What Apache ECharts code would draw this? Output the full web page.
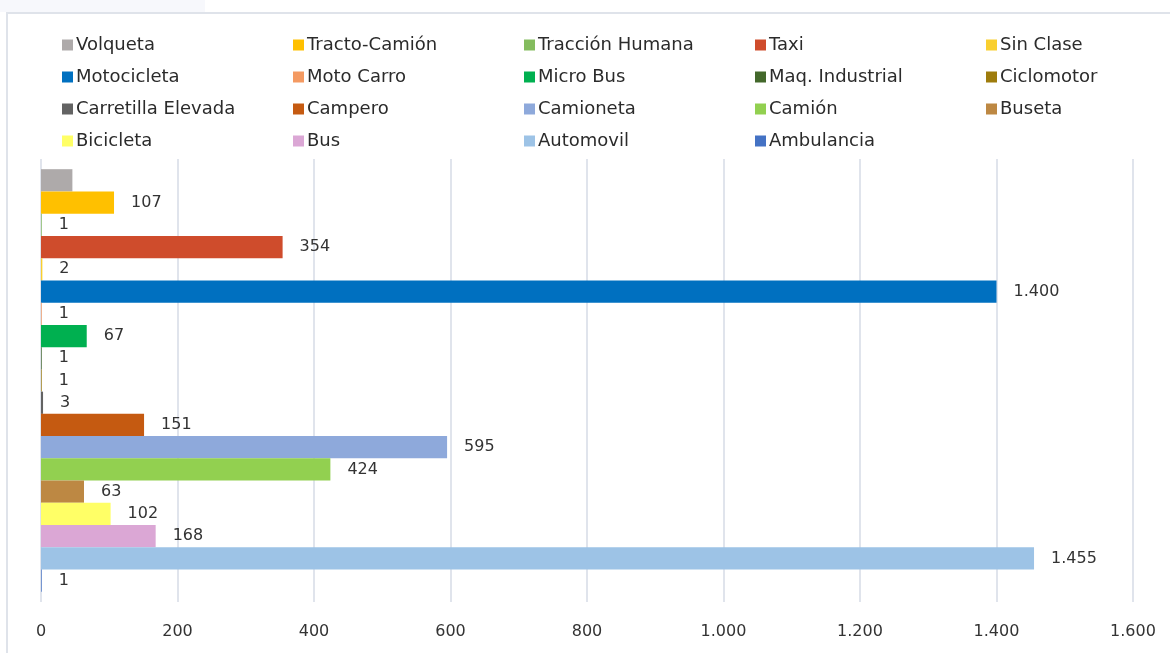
<!DOCTYPE html>
<html>
<head>
<meta charset="utf-8">
<script src="https://cdn.jsdelivr.net/npm/echarts@6/dist/echarts.min.js"></script>
<style>html,body{margin:0;padding:0;background:#fff}#c{width:1170px;height:653px}</style>
</head>
<body>
<div id="c"></div>
<script>
const categories = ['Volqueta','Tracto-Camión','Tracción Humana','Taxi','Sin Clase','Motocicleta','Moto Carro','Micro Bus','Maq. Industrial','Ciclomotor','Carretilla Elevada','Campero','Camioneta','Camión','Buseta','Bicicleta','Bus','Automovil','Ambulancia'];
const values = [46,107,1,354,2,1400,1,67,1,1,3,151,595,424,63,102,168,1455,1];
const colors = ['#AEAAAA','#FFC000','#84BC5E','#CF4C2C','#F9CF2F','#0070C0','#F49A62','#00B050','#43682B','#9E7C0C','#636363','#C55A11','#8EA9DB','#92D050','#BD8843','#FFFF66','#DBA7D5','#9DC3E6','#4472C4'];
const showLabel = [false,true,true,true,true,true,true,true,true,true,true,true,true,true,true,true,true,true,true];
const xTicks = {min:0, max:1600, interval:200};

const fmt = v => String(v).replace(/\B(?=(\d{3})+(?!\d))/g, '.');
const FONT = 'DejaVu Sans';

const series = categories.map((name, i) => ({
  name: name,
  type: 'bar',
  data: [values[i]],
  barGap: '0%',
  barCategoryGap: '4.6%',
  itemStyle: {color: colors[i]},
  label: {
    show: showLabel[i], position: 'right', distance: 17,
    color: '#333333', fontFamily: FONT, fontSize: 16,
    formatter: p => fmt(p.value)
  }
}));

const chart = echarts.init(document.getElementById('c'));
chart.setOption({
  animation: false,
  backgroundColor: '#fff',
  graphic: [
    {type:'rect', shape:{x:0,y:0,width:205,height:12}, style:{fill:'#f7f8fc'}, silent:true, z:-10},
    {type:'rect', shape:{x:7,y:13,width:1175,height:660}, style:{fill:'none', stroke:'#dfe3ea', lineWidth:2}, silent:true, z:-10}
  ],
  legend: {
    data: categories,
    left: 62, top: 34, width: 1165, padding: 0,
    itemWidth: 11, itemHeight: 11, itemGap: 10,
    icon: 'rect',
    textStyle: {color:'#2b2b2b', fontFamily: FONT, fontSize: 18, width: 207, lineHeight: 22, padding:[0,0,0,-2]}
  },
  grid: {left: 41, right: 37, top: 159, bottom: 51},
  xAxis: {
    type: 'value', min: xTicks.min, max: xTicks.max, interval: xTicks.interval,
    axisLine: {show:false}, axisTick: {show:false},
    splitLine: {lineStyle: {color:'#e0e4ec', width: 2}},
    axisLabel: {color:'#333333', fontFamily: FONT, fontSize: 16, margin: 22, formatter: v => fmt(v)}
  },
  yAxis: {
    type: 'category', data: [''],
    axisLine: {show:false}, axisTick: {show:false}, axisLabel: {show:false}
  },
  series: series
});
</script>
</body>
</html>
